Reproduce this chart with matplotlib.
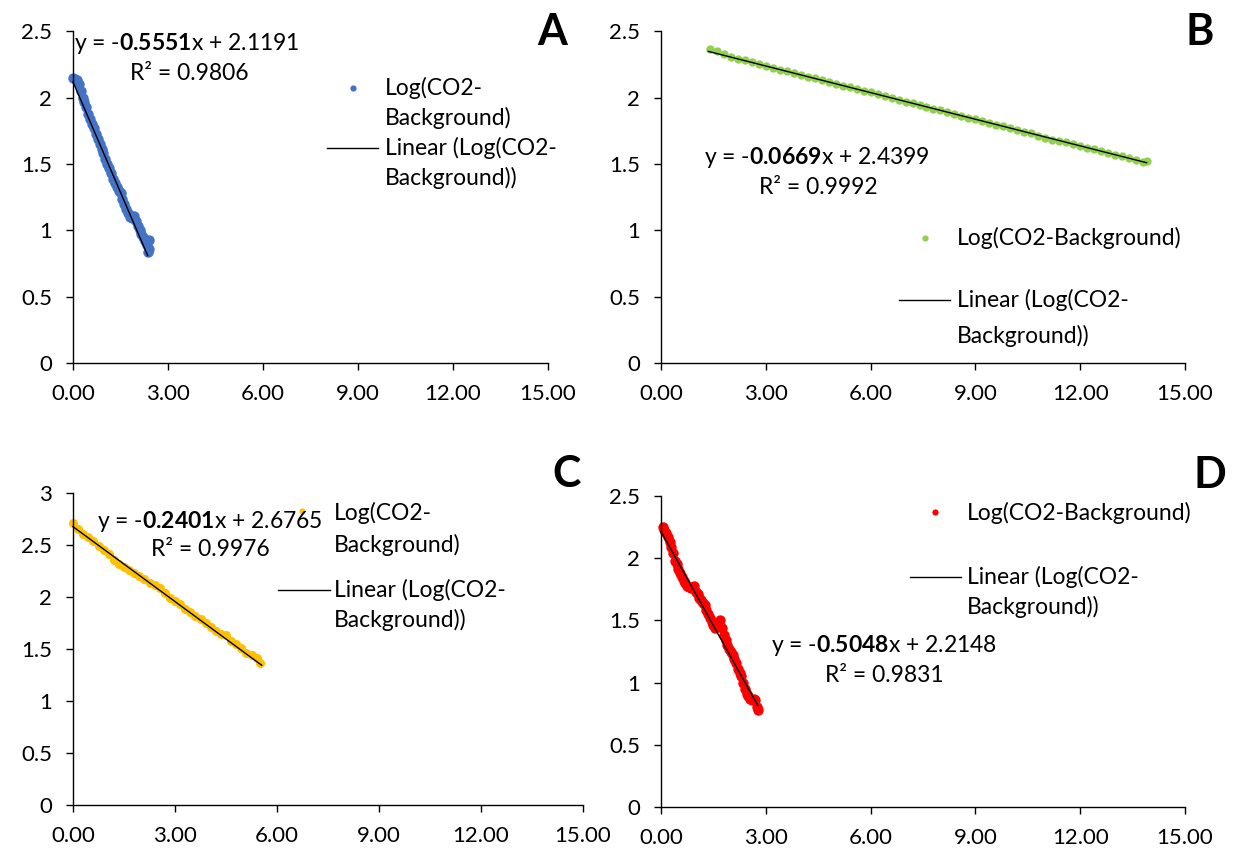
import matplotlib
matplotlib.use("Agg")
import matplotlib.pyplot as plt
from matplotlib.lines import Line2D
from matplotlib.ticker import FuncFormatter, MultipleLocator

plt.rcParams['font.family'] = ['Lato', 'DejaVu Sans']
plt.rcParams['mathtext.fontset'] = 'custom'
plt.rcParams['mathtext.rm'] = 'Lato'
plt.rcParams['mathtext.bf'] = 'Lato:bold'

W, H = 1236, 852

# ---- data ----
# A (blue)
a_x = [0.00, 0.06, 0.12, 0.18, 0.24, 0.30, 0.36, 0.42, 0.48, 0.54, 0.60,
       0.66, 0.72, 0.78, 0.84, 0.90, 0.96, 1.02, 1.08, 1.14, 1.20, 1.26,
       1.32, 1.38, 1.44, 1.50, 1.56, 1.62, 1.68, 1.74, 1.80, 1.86, 1.92,
       1.98, 2.04, 2.10, 2.16, 2.22, 2.28, 2.34, 2.40, 2.38, 2.40]
a_y = [2.15, 2.14, 2.13, 2.10, 2.05, 2.00, 1.97, 1.93, 1.88, 1.84, 1.80,
       1.77, 1.73, 1.69, 1.65, 1.61, 1.58, 1.54, 1.50, 1.47, 1.43, 1.39,
       1.36, 1.33, 1.30, 1.28, 1.24, 1.20, 1.16, 1.13, 1.10, 1.09, 1.11,
       1.07, 1.03, 1.00, 0.97, 0.95, 0.92, 0.89, 0.86, 0.84, 0.93]

# B (green)
b_x = [1.4, 1.6, 1.8, 2.0, 2.2, 2.4, 2.6, 2.8, 3.0, 3.2, 3.4, 3.6, 3.8,
       4.0, 4.2, 4.4, 4.6, 4.8, 5.0, 5.2, 5.4, 5.6, 5.8, 6.0, 6.2, 6.4,
       6.6, 6.8, 7.0, 7.2, 7.4, 7.6, 7.8, 8.0, 8.2, 8.4, 8.6, 8.8, 9.0,
       9.2, 9.4, 9.6, 9.8, 10.0, 10.2, 10.4, 10.6, 10.8, 11.0, 11.2, 11.4,
       11.6, 11.8, 12.0, 12.2, 12.4, 12.6, 12.8, 13.0, 13.2, 13.4, 13.6,
       13.8, 13.9]
b_y = [2.370, 2.350, 2.330, 2.310, 2.295, 2.285, 2.270, 2.255, 2.240,
       2.225, 2.210, 2.200, 2.185, 2.170, 2.155, 2.145, 2.130, 2.120,
       2.105, 2.090, 2.078, 2.064, 2.050, 2.040, 2.025, 2.012, 1.998,
       1.985, 1.970, 1.958, 1.944, 1.930, 1.918, 1.905, 1.890, 1.878,
       1.865, 1.850, 1.838, 1.825, 1.810, 1.797, 1.784, 1.770, 1.757,
       1.743, 1.732, 1.715, 1.700, 1.680, 1.675, 1.663, 1.650, 1.638,
       1.622, 1.610, 1.596, 1.585, 1.570, 1.558, 1.542, 1.528, 1.515, 1.520]

# C (gold)
c_x = [0.00, 0.15, 0.30, 0.45, 0.60, 0.75, 0.90, 1.05, 1.20, 1.35, 1.50,
       1.65, 1.80, 1.95, 2.10, 2.25, 2.40, 2.55, 2.70, 2.85, 3.00, 3.15,
       3.30, 3.45, 3.60, 3.75, 3.90, 4.05, 4.20, 4.35, 4.50, 4.65, 4.80,
       4.95, 5.10, 5.25, 5.40, 5.50]
c_y = [2.71, 2.65, 2.61, 2.58, 2.54, 2.49, 2.45, 2.41, 2.36, 2.32, 2.29,
       2.26, 2.23, 2.20, 2.17, 2.13, 2.12, 2.09, 2.04, 1.99, 1.96, 1.93,
       1.88, 1.86, 1.82, 1.79, 1.75, 1.71, 1.67, 1.64, 1.63, 1.58, 1.55,
       1.51, 1.46, 1.44, 1.41, 1.37]

# D (red)
d_x = [0.05, 0.10, 0.15, 0.20, 0.25, 0.30, 0.35, 0.40, 0.45, 0.50, 0.55,
       0.60, 0.65, 0.70, 0.75, 0.80, 0.85, 0.90, 0.95, 1.00, 1.05, 1.10,
       1.15, 1.20, 1.25, 1.30, 1.35, 1.40, 1.45, 1.50, 1.55, 1.60, 1.65,
       1.70, 1.75, 1.80, 1.85, 1.90, 1.95, 2.00, 2.05, 2.10, 2.15, 2.20,
       2.25, 2.30, 2.35, 2.40, 2.45, 2.50, 2.55, 2.60, 2.65, 2.70, 2.75, 2.77]
d_y = [2.25, 2.23, 2.20, 2.17, 2.13, 2.09, 2.04, 1.98, 1.95, 1.91, 1.88,
       1.85, 1.82, 1.80, 1.78, 1.77, 1.76, 1.77, 1.78, 1.73, 1.71, 1.68,
       1.66, 1.64, 1.62, 1.58, 1.55, 1.52, 1.49, 1.46, 1.44, 1.46, 1.49,
       1.50, 1.44, 1.38, 1.34, 1.30, 1.27, 1.25, 1.22, 1.19, 1.16, 1.11,
       1.08, 1.05, 1.00, 0.95, 0.91, 0.89, 0.87, 0.86, 0.87, 0.86, 0.80, 0.78]

# trendlines: slope, intercept, x range
slopes = [-0.5551, -0.0669, -0.2401, -0.5048]
intercepts = [2.1191, 2.4399, 2.6765, 2.2148]
r2 = [0.9806, 0.9992, 0.9976, 0.9831]
fit_x = [(0.0, 2.36), (1.35, 13.9), (0.0, 5.55), (0.0, 2.77)]
letters = ['A', 'B', 'C', 'D']
colors = ['#4472C4', '#92D050', '#FFC000', '#FF0000']

series = [(a_x, a_y), (b_x, b_y), (c_x, c_y), (d_x, d_y)]


def px(x, y):
    return x / W, 1 - y / H


fig = plt.figure(figsize=(W / 100, H / 100), dpi=100)

# axes boxes in pixels: left, right, top, bottom
boxes = [(73, 548, 31.4, 363), (661, 1185, 31.4, 363),
         (73, 583, 493, 805), (661, 1185, 496, 807)]
ymax = [2.5, 2.5, 3.0, 2.5]
msize = [7.5, 6.0, 6.5, 7.5]

for i, (l, r, t, b) in enumerate(boxes):
    ax = fig.add_axes([l / W, 1 - b / H, (r - l) / W, (b - t) / H])
    x, y = series[i]
    ax.plot(x, y, 'o', color=colors[i], ms=msize[i], mec='none',
            clip_on=False, zorder=2)
    x0, x1 = fit_x[i]
    ax.plot([x0, x1], [intercepts[i] + slopes[i] * x0,
                       intercepts[i] + slopes[i] * x1],
            color='black', lw=1.0, zorder=3, clip_on=False)
    ax.set_xlim(0, 15)
    ax.set_ylim(0, ymax[i])
    ax.xaxis.set_major_locator(MultipleLocator(3))
    ax.yaxis.set_major_locator(MultipleLocator(0.5))
    ax.xaxis.set_major_formatter(FuncFormatter(lambda v, p: f'{v:.2f}'))
    ax.yaxis.set_major_formatter(FuncFormatter(lambda v, p: f'{v:g}'))
    ax.tick_params(direction='out', length=5, width=1, labelsize=16,
                   pad=10, colors='black')
    for s in ['top', 'right']:
        ax.spines[s].set_visible(False)
    for s in ['left', 'bottom']:
        ax.spines[s].set_linewidth(1.0)
        ax.spines[s].set_color('black')

# equations (center positions in pixels)
eq_pos = [((187, 43), (189, 74)), ((817, 157), (818, 188)),
          ((210, 522), (210, 549)), ((884, 645), (884, 675))]
for i, (p1, p2) in enumerate(eq_pos):
    s = f'y = -$\\mathbf{{{abs(slopes[i]):.4f}}}$x + {intercepts[i]:.4f}'
    fig.text(*px(*p1), s, ha='center', va='center', fontsize=16.5)
    fig.text(*px(*p2), f'R² = {r2[i]:.4f}', ha='center', va='center',
             fontsize=16.5)

# panel letters
let_pos = [(552, 32), (1200, 32), (567, 474), (1210, 475)]
for i, p in enumerate(let_pos):
    fig.text(*px(*p), letters[i], ha='center', va='center', fontsize=31,
             fontweight='bold')

# legends: dot pos, text x, lines of entry 1, line-handle y, handle x range, lines of entry 2
leg = [
    ((353, 88), 385, [(88, 'Log(CO2-'), (118, 'Background)')],
     (327, 378, 148), [(148, 'Linear (Log(CO2-'), (178, 'Background))')]),
    ((925, 238), 957, [(238, 'Log(CO2-Background)')],
     (899, 950, 300), [(300, 'Linear (Log(CO2-'), (336, 'Background))')]),
    ((302, 511), 334, [(513, 'Log(CO2-'), (545, 'Background)')],
     (278, 330, 590), [(590, 'Linear (Log(CO2-'), (620, 'Background))')]),
    ((935, 512), 967, [(513, 'Log(CO2-Background)')],
     (910, 961, 577), [(577, 'Linear (Log(CO2-'), (607, 'Background))')]),
]
for i, (dot, tx, e1, hl, e2) in enumerate(leg):
    fig.add_artist(Line2D([dot[0] / W], [1 - dot[1] / H], marker='o',
                          ms=4.5, color=colors[i], mec='none', lw=0,
                          transform=fig.transFigure))
    fig.add_artist(Line2D([hl[0] / W, hl[1] / W], [1 - hl[2] / H] * 2,
                          color='black', lw=1.0, transform=fig.transFigure))
    for yy, t in e1 + e2:
        fig.text(*px(tx, yy), t, ha='left', va='center', fontsize=16.5)

fig.savefig('out.png', dpi=100)
